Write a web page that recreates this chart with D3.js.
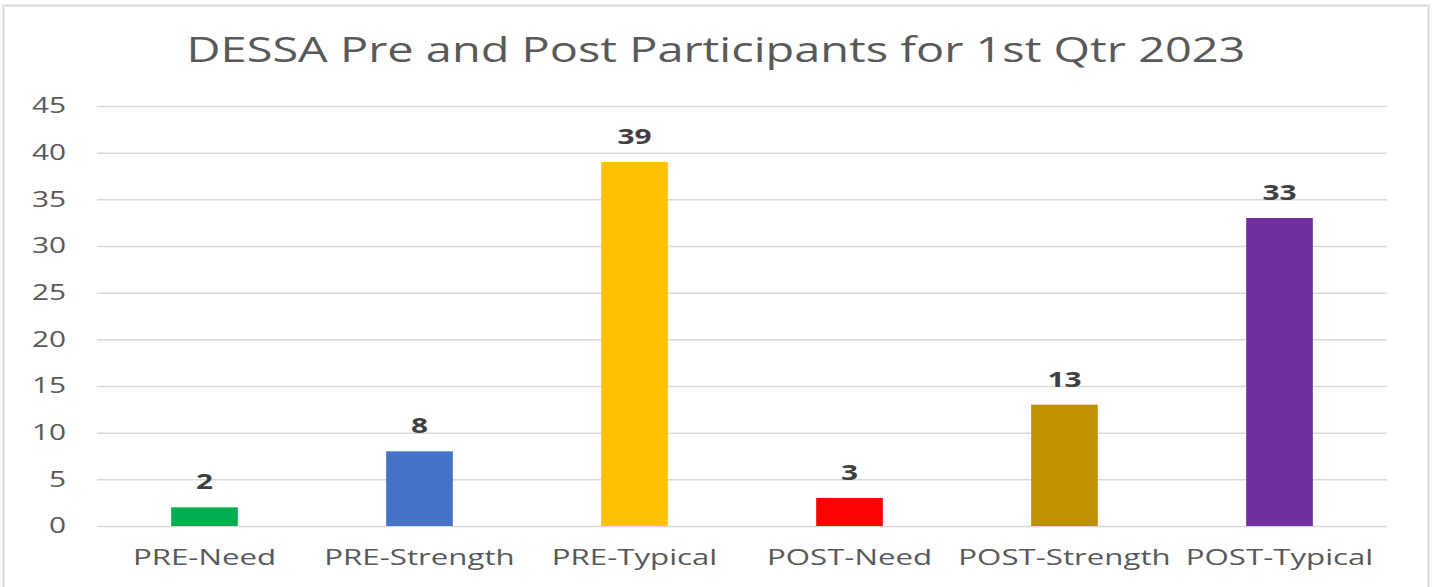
<!DOCTYPE html>
<html>
<head>
<meta charset="utf-8">
<script src="https://cdn.jsdelivr.net/npm/d3@7"></script>
<style>
  body { margin: 0; background: #fff; }
  svg text { font-family: "Open Sans", "Noto Sans", sans-serif; }
</style>
</head>
<body>
<script>
var categories = ['PRE-Need', 'PRE-Strength', 'PRE-Typical', 'POST-Need', 'POST-Strength', 'POST-Typical'];
var values = [2, 8, 39, 3, 13, 33];
var barColors = ['#00B050', '#4472C4', '#FFC000', '#FF0000', '#BF9000', '#7030A0'];
var yTicks = [0, 5, 10, 15, 20, 25, 30, 35, 40, 45];
var title = 'DESSA Pre and Post Participants for 1st Qtr 2023';

var w = 1435;
var h = 587;
var margin = {left: 97, right: 48, top: 106, bottom: 61};
var sx = 1.42; // the source picture is stretched sideways

var svg = d3.select('body')
  .append('svg')
  .attr('width', w)
  .attr('height', h);

// chart frame
svg.append('rect')
  .attr('x', 3.5)
  .attr('y', 5.5)
  .attr('width', 1425)
  .attr('height', 600)
  .attr('fill', 'none')
  .attr('stroke', '#d9d9d9')
  .attr('stroke-width', 2);

var xScale = d3.scaleBand()
  .domain(categories)
  .range([margin.left, w - margin.right])
  .paddingInner(0.69)
  .paddingOuter(0.345);

var yScale = d3.scaleLinear()
  .domain([0, 45])
  .range([h - margin.bottom, margin.top]);

// gridlines
svg.append('g')
  .attr('class', 'grid')
  .attr('transform', 'translate(' + margin.left + ',0)')
  .call(d3.axisLeft(yScale).tickValues(yTicks).tickSize(-(w - margin.left - margin.right)).tickFormat(''))
  .call(function(g){ g.select('.domain').remove(); })
  .selectAll('line')
  .attr('stroke', '#d9d9d9')
  .attr('stroke-width', 1.5);

// y tick labels
svg.append('g')
  .attr('transform', 'translate(' + margin.left + ',0)')
  .call(d3.axisLeft(yScale).tickValues(yTicks).tickSize(0))
  .call(function(g){ g.select('.domain').remove(); })
  .selectAll('text')
  .attr('x', -31 / sx)
  .attr('transform', 'scale(' + sx + ',1)')
  .attr('fill', '#595959')
  .attr('font-size', '21px');

// bars
svg.selectAll('rect.bar')
  .data(values)
  .enter()
  .append('rect')
  .attr('class', 'bar')
  .attr('x', function(d, i){ return xScale(categories[i]); })
  .attr('y', function(d){ return yScale(d); })
  .attr('width', xScale.bandwidth())
  .attr('height', function(d){ return yScale(0) - yScale(d); })
  .attr('fill', function(d, i){ return barColors[i]; });

// value labels
svg.selectAll('text.val')
  .data(values)
  .enter()
  .append('text')
  .attr('class', 'val')
  .text(function(d){ return d; })
  .attr('transform', function(d, i){
    var x = xScale(categories[i]) + xScale.bandwidth() / 2;
    return 'translate(' + x + ',' + (yScale(d) - 18) + ') scale(' + sx + ',1)';
  })
  .attr('text-anchor', 'middle')
  .attr('fill', '#404040')
  .attr('font-size', '21px')
  .attr('font-weight', 'bold');

// x axis labels
svg.append('g')
  .attr('transform', 'translate(0,' + (h - margin.bottom) + ')')
  .call(d3.axisBottom(xScale).tickSize(0).tickPadding(23))
  .call(function(g){ g.select('.domain').remove(); })
  .selectAll('text')
  .attr('transform', 'scale(' + sx + ',1)')
  .attr('fill', '#595959')
  .attr('font-size', '22px');

// title
svg.append('text')
  .attr('transform', 'translate(716,62) scale(1.34,1)')
  .attr('text-anchor', 'middle')
  .attr('fill', '#595959')
  .attr('font-size', '35px')
  .text(title);
</script>
</body>
</html>
